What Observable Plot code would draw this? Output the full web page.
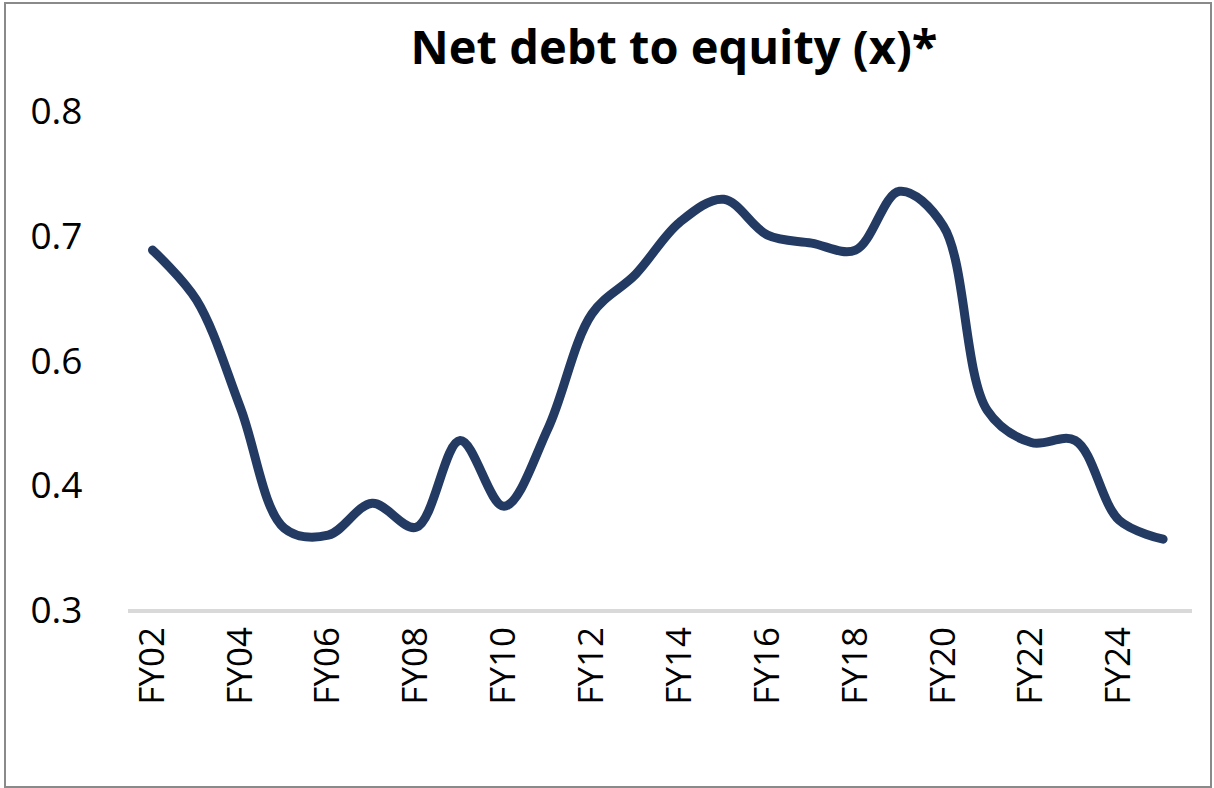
<!DOCTYPE html>
<html>
<head>
<meta charset="utf-8">
<script src="https://cdn.jsdelivr.net/npm/d3@7"></script>
<script src="https://cdn.jsdelivr.net/npm/@observablehq/plot@0.6"></script>
<style>
  html, body { margin: 0; padding: 0; background: #fff; }
  #frame {
    position: absolute; left: 4px; top: 2px; width: 1208px; height: 786px;
    box-sizing: border-box; border: 2px solid #8a8a8a; background: #fff; overflow: hidden;
  }
  #title {
    height: 76px; box-sizing: border-box; padding-top: 11px; padding-left: 132px;
    text-align: center; font-family: "Open Sans", sans-serif; font-weight: 700;
    font-size: 47px; line-height: 62px; color: #000; white-space: nowrap;
  }
  #chart svg { display: block; font-family: "Open Sans", sans-serif; }
</style>
</head>
<body>
<div id="frame">
  <div id="title">Net debt to equity (x)*</div>
  <div id="chart"></div>
</div>
<script>
const years = [2002, 2003, 2004, 2005, 2006, 2007, 2008, 2009, 2010, 2011, 2012, 2013,
               2014, 2015, 2016, 2017, 2018, 2019, 2020, 2021, 2022, 2023, 2024, 2025];
const netDebtToEquity = [0.662, 0.612, 0.504, 0.383, 0.376, 0.408, 0.384, 0.471, 0.405, 0.483, 0.598, 0.638,
                         0.690, 0.713, 0.677, 0.669, 0.662, 0.721, 0.686, 0.501, 0.469, 0.471, 0.391, 0.372];
const xTickYears = [2002, 2004, 2006, 2008, 2010, 2012, 2014, 2016, 2018, 2020, 2022, 2024];
const xTickLabels = ["FY02", "FY04", "FY06", "FY08", "FY10", "FY12", "FY14", "FY16", "FY18", "FY20", "FY22", "FY24"];
const yTickValues = [0.3, 0.425, 0.55, 0.675, 0.8];
const yTickLabels = ["0.3", "0.4", "0.6", "0.7", "0.8"];

const data = years.map((year, i) => ({year, value: netDebtToEquity[i]}));

const chart = Plot.plot({
  width: 1204,
  height: 706,
  marginTop: 32,
  marginBottom: 175.5,
  marginLeft: 122,
  marginRight: 18,
  x: {type: "linear", domain: [2001.454, 2025.669]},
  y: {domain: [0.3, 0.8]},
  marks: [
    Plot.axisY({
      ticks: yTickValues,
      tickFormat: (d) => yTickLabels[yTickValues.indexOf(d)],
      tickSize: 0, tickPadding: 46, fontSize: 37, label: null, fill: "#000"
    }),
    Plot.axisX({
      ticks: xTickYears,
      tickFormat: (d) => xTickLabels[xTickYears.indexOf(d)],
      tickSize: 0, tickPadding: 16, tickRotate: -90, fontSize: 35, label: null, fill: "#000"
    }),
    Plot.ruleY([0.3], {stroke: "#d9d9d9", strokeWidth: 4}),
    Plot.line(data, {
      x: "year", y: "value", curve: "catmull-rom",
      stroke: "#233a63", strokeWidth: 9, strokeLinecap: "round", strokeLinejoin: "round"
    })
  ]
});
document.getElementById("chart").appendChild(chart);
</script>
</body>
</html>
